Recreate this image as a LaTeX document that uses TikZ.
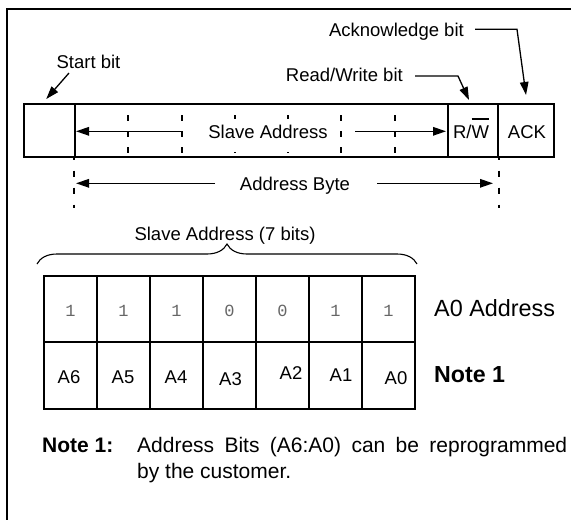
\documentclass[tikz,border=0pt]{standalone}
\usepackage{fontspec}
\setmainfont{Liberation Sans}
\newfontfamily\digitfont{Liberation Mono}
\usetikzlibrary{arrows.meta,decorations.pathreplacing}
\begin{document}
\begin{tikzpicture}[x=1pt,y=-1pt,
  lab/.style={font=\fontsize{18.5}{22}\selectfont, inner sep=0pt, anchor=base},
  cellbox/.style={draw, line width=2pt, minimum height=52.5pt, inner sep=0pt},
  tcell/.style={draw, line width=2pt, minimum width=53pt, inner sep=0pt},
  bigarrow/.style={line width=1.5pt, -{Triangle[length=13pt,width=8.5pt]}},
  ptr/.style={line width=1.3pt, -{Triangle[length=13pt,width=8.5pt]}},
  dashdiv/.style={line width=2pt, dash pattern=on 6pt off 10pt, dash phase=5pt},
  dashtick/.style={line width=2pt, dash pattern=on 6pt off 11pt, dash phase=4pt},
  digit/.style={font=\digitfont\fontsize{17}{20}\selectfont, text=black!60, inner sep=0pt, anchor=base},
  big/.style={font=\fontsize{23.4}{28}\selectfont, inner sep=0pt, anchor=base west},
  note/.style={font=\fontsize{21}{26}\selectfont, inner sep=0pt, anchor=base west},
]
\useasboundingbox (0,0) rectangle (571,520);

% frame (only left and top edges visible)
\draw[line width=2pt] (6.7,522) -- (6.7,9) -- (573,9);

% top bar
\node[cellbox, minimum width=51.5pt] (start) at (49.25,130.25) {};
\node[cellbox, minimum width=373pt] (bits) at (261.5,130.25) {};
\node[cellbox, minimum width=50pt] (rw) at (473,130.25) {};
\node[cellbox, minimum width=56pt] (ack) at (526,130.25) {};

\foreach \k in {1,...,6}
  \draw[dashdiv] ({75+53.286*\k},104) -- ({75+53.286*\k},156.5);

\node[lab] (rwt) at (471,138) {R/\rlap{\rule[18.3pt]{17.5pt}{1.4pt}}W};
\node[lab] (ackt) at (527,138) {ACK};

% Slave Address arrows
\node[lab, fill=white, inner xsep=2pt, text height=14pt, text depth=9pt, inner ysep=5pt] (sa) at (268,138.3) {Slave Address};
\coordinate (sal) at (181.6,131.3);
\coordinate (sar) at (355,131.3);
\draw[bigarrow] (sal) -- (sal -| start.east);
\draw[bigarrow, shorten >=1pt] (sar) -- (sar -| rw.west);

% Address Byte
\draw[dashtick] (bits.south west) -- ++(0,50);
\draw[dashtick] (rw.south east) -- ++(0,50);
\node[lab] (ab) at (295,190) {Address Byte};
\coordinate (abl) at (215,183.3);
\coordinate (abr) at (377,183.3);
\draw[bigarrow, shorten >=2pt] (abl) -- (abl -| bits.south west);
\draw[bigarrow, shorten >=6pt] (abr) -- (abr -| rw.south east);

% pointer labels
\node[lab] (stl) at (88.5,68) {Start bit};
\draw[ptr] ([shift={(-19.5,5)}]stl.base) -- ([shift={(-3,-4)}]start.north);

\node[lab, anchor=base east] (rwl) at (403,81.7) {Read/Write bit};
\draw[ptr] ([shift={(12,-5.7)}]rwl.base east) -- ++(43,0) -- ([shift={(-4,-3)}]rw.north);

\node[lab, anchor=base east] (ackl) at (464,36) {Acknowledge bit};
\draw[ptr] ([shift={(11,-6.7)}]ackl.base east) -- ++(42,0) -- ([shift={(0,-8)}]ack.north);

% brace
\node[lab] (bl) at (225,240) {Slave Address (7 bits)};
\draw[line width=1.1pt, decorate, decoration={brace, amplitude=20pt}] (37,264) -- (417,264);

% table
\foreach \i/\dg/\al/\ax/\ay in {1/1/A6/69/383.6, 2/1/A5/123/383.3, 3/1/A4/176/383.3, 4/0/A3/230.5/385, 5/0/A2/291/379, 6/1/A1/341/381, 7/1/A0/396/384} {
  \node[tcell, minimum height=66pt] (c\i) at ({44+53*(\i-0.5)},309) {};
  \node[tcell, minimum height=67pt] (b\i) at ({44+53*(\i-0.5)},375.5) {};
  \node[digit] (d\i) at ({44+53*(\i-0.5)},316.7) {\dg};
  \node[lab] (a\i) at (\ax,\ay) {\al};
}

\node[big] (a0addr) at (434,316.5) {A0 Address};
\node[big, font=\bfseries\fontsize{23.2}{28}\selectfont] (n1) at (434,382.6) {Note 1};

% note
\node[note, font=\bfseries\fontsize{21}{26}\selectfont] (nlab) at (42,452) {Note 1:};
\node[note] (nt1) at (137,452) {\makebox[430pt][s]{Address Bits (A6:A0) can be reprogrammed}};
\node[note] (nt2) at (137,478) {by the customer.};
\end{tikzpicture}
\end{document}
